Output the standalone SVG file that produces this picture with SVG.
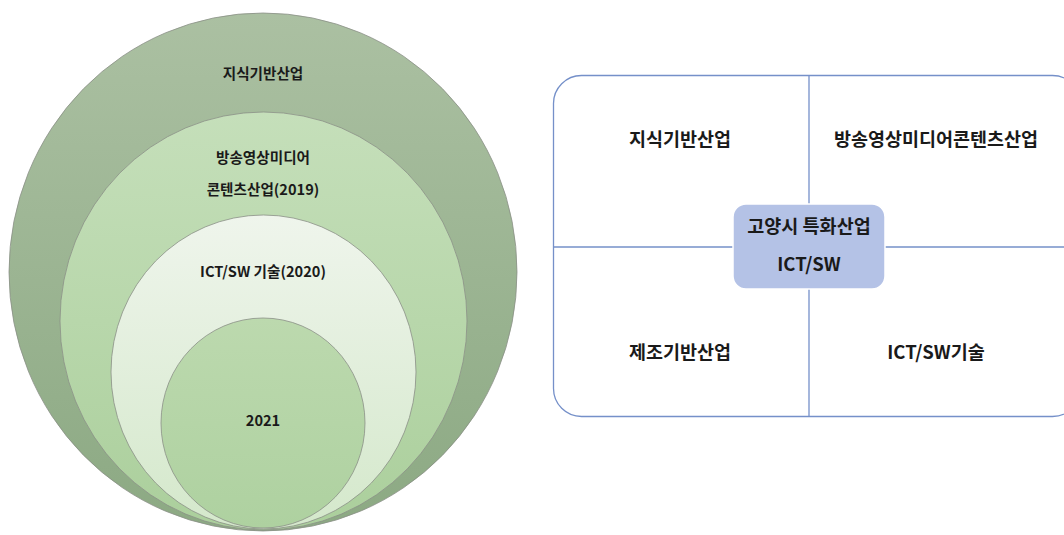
<svg xmlns="http://www.w3.org/2000/svg" width="1064" height="535" viewBox="0 0 1064 535">
<defs>
<linearGradient id="g1" x1="0" y1="0" x2="0" y2="1"><stop offset="0" stop-color="#abc0a2"/><stop offset="1" stop-color="#8ca983"/></linearGradient>
<linearGradient id="g2" x1="0" y1="0" x2="0" y2="1"><stop offset="0" stop-color="#c5dfba"/><stop offset="1" stop-color="#abcf9c"/></linearGradient>
<linearGradient id="g3" x1="0" y1="0" x2="0" y2="1"><stop offset="0" stop-color="#eff5ec"/><stop offset="1" stop-color="#d4e8cb"/></linearGradient>
<linearGradient id="g4" x1="0" y1="0" x2="0" y2="1"><stop offset="0" stop-color="#bcd9ae"/><stop offset="1" stop-color="#aed1a0"/></linearGradient>
</defs>
<style>
.c{stroke:#8a8f86;stroke-width:0.8}
.t{font-family:"Noto Sans CJK KR","Liberation Sans",sans-serif;font-weight:700;fill:#1a1a1a;text-anchor:middle}
.s{font-size:14.6px}
.q{font-size:18.5px}
.ln{stroke:#7590c9;stroke-width:1.3;fill:none}
</style>
<rect width="1064" height="535" fill="#ffffff"/>
<g id="circle-knowledge"><ellipse class="c" cx="263" cy="272" rx="254" ry="259" fill="url(#g1)"/><text class="t s" x="263" y="79">지식기반산업</text></g>
<g id="circle-media"><ellipse class="c" cx="263.5" cy="321" rx="203.5" ry="209" fill="url(#g2)"/><text class="t s" x="263" y="163">방송영상미디어</text><text class="t s" x="263" y="195">콘텐츠산업(2019)</text></g>
<g id="circle-ict"><ellipse class="c" cx="263.5" cy="372" rx="152.5" ry="157" fill="url(#g3)"/><text class="t s" x="263" y="277">ICT/SW 기술(2020)</text></g>
<g id="circle-2021"><ellipse class="c" cx="263" cy="423" rx="102" ry="105" fill="url(#g4)"/><text class="t s" x="263" y="426">2021</text></g>
<g id="connectors">
<rect class="ln" x="553.5" y="75.5" width="527" height="341" rx="28"/>
<line class="ln" x1="809" y1="75.5" x2="809" y2="416.5"/>
<line class="ln" x1="553.5" y1="247" x2="1064" y2="247"/>
</g>
<g id="q-knowledge"><text class="t q" x="680" y="146">지식기반산업</text></g>
<g id="q-media"><text class="t q" x="936" y="146">방송영상미디어콘텐츠산업</text></g>
<g id="q-manufacturing"><text class="t q" x="680" y="359">제조기반산업</text></g>
<g id="q-ict"><text class="t q" x="936" y="359">ICT/SW기술</text></g>
<g id="center"><rect x="733" y="204" width="152" height="85" rx="13" fill="#b4c2e6" stroke="#ffffff" stroke-width="1.5"/><text class="t q" x="809" y="233">고양시 특화산업</text><text class="t q" x="809" y="271">ICT/SW</text></g>
</svg>
